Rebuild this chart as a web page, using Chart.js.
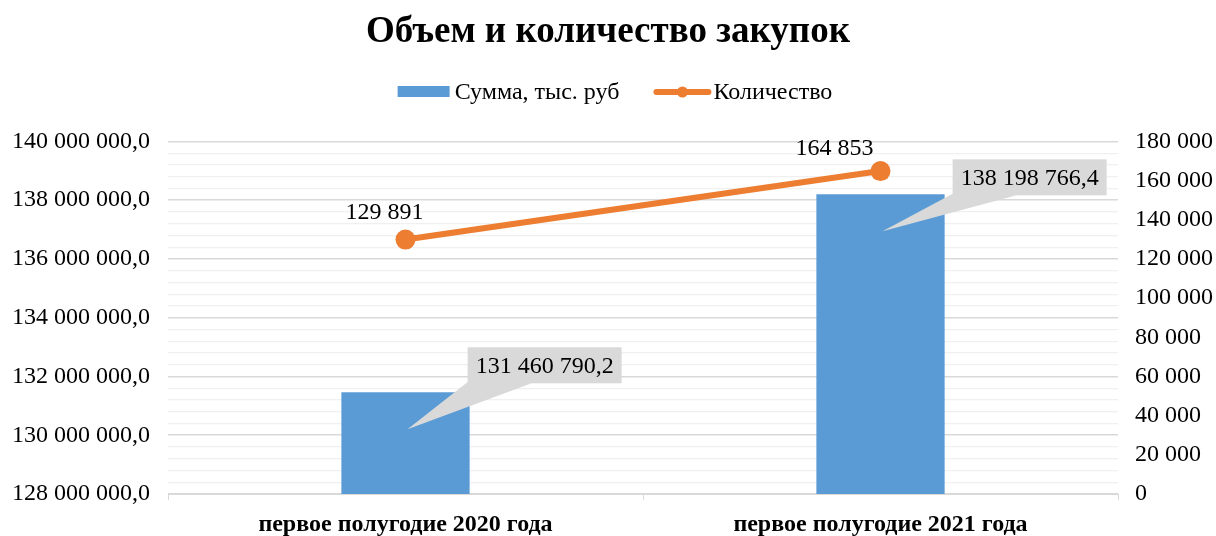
<!DOCTYPE html>
<html>
<head>
<meta charset="utf-8">
<script src="https://cdn.jsdelivr.net/npm/chart.js@4.4.0/dist/chart.umd.min.js"></script>
<style>
	html, body { margin: 0; padding: 0; background: #fff; }
	#wrap { width: 1216px; height: 536px; }
</style>
</head>
<body>
<div id="wrap"><canvas id="myChart" width="1216" height="536"></canvas></div>
<script>
// данные
var categories = ['первое полугодие 2020 года', 'первое полугодие 2021 года'];
var sumValues = [131460790.2, 138198766.4];
var countValues = [129891, 164853];
var leftTicks = [128000000, 130000000, 132000000, 134000000, 136000000, 138000000, 140000000];
var rightTicks = [0, 20000, 40000, 60000, 80000, 100000, 120000, 140000, 160000, 180000];

var FONT = "'Liberation Serif', 'Times New Roman', serif";
var BLUE = '#5b9bd5';
var ORANGE = '#ed7d31';

function fmt(v, dec) {
	var s = v.toFixed(dec).split('.');
	var int = s[0].replace(/\B(?=(\d{3})+(?!\d))/g, ' ');
	return dec ? int + ',' + s[1] : int;
}

// подписи-выноски у столбцов (смещения коробки от края столбца)
var calloutOffsets = [{dx: -2, dy: -9}, {dx: 8, dy: 1}];
// подписи над точками линии
var pointLabelOffsets = [{dx: -21, dy: -27}, {dx: -46, dy: -22}];

var labelsPlugin = {
	id: 'labelsPlugin',
	afterDatasetsDraw: function (chart) {
		var ctx = chart.ctx;
		ctx.save();
		ctx.font = '24px ' + FONT;
		// выноски
		chart.getDatasetMeta(0).data.forEach(function (bar, i) {
			var txt = fmt(sumValues[i], 1);
			var w = ctx.measureText(txt).width + 16;
			var h = 36;
			var left = bar.x + bar.width / 2 + calloutOffsets[i].dx;
			var bottom = bar.y + calloutOffsets[i].dy;
			var tipX = bar.x + 2, tipY = bar.y + 37;
			ctx.fillStyle = '#d9d9d9';
			ctx.beginPath();
			ctx.moveTo(tipX, tipY);
			ctx.lineTo(left + 1, bottom - 2);
			ctx.lineTo(left + 64, bottom);
			ctx.closePath();
			ctx.fill();
			ctx.fillRect(left, bottom - h, w, h);
			ctx.fillStyle = '#000';
			ctx.textAlign = 'center';
			ctx.textBaseline = 'middle';
			ctx.fillText(txt, left + w / 2, bottom - h / 2 + 1);
		});
		// подписи линии
		chart.getDatasetMeta(1).data.forEach(function (pt, i) {
			ctx.fillStyle = '#000';
			ctx.textAlign = 'center';
			ctx.textBaseline = 'middle';
			ctx.fillText(fmt(countValues[i], 0), pt.x + pointLabelOffsets[i].dx, pt.y + pointLabelOffsets[i].dy);
		});
		ctx.restore();
	}
};

var legendPlugin = {
	id: 'legendPlugin',
	afterDraw: function (chart) {
		var ctx = chart.ctx;
		ctx.save();
		ctx.font = '24px ' + FONT;
		var t1 = 'Сумма, тыс. руб', t2 = 'Количество';
		var w1 = ctx.measureText(t1).width, w2 = ctx.measureText(t2).width;
		var total = 52 + 5 + w1 + 34 + 58 + 2 + w2;
		var x = 615 - total / 2, y = 92;
		ctx.fillStyle = BLUE;
		ctx.fillRect(x, y - 6, 52, 11);
		ctx.fillStyle = '#000';
		ctx.textBaseline = 'middle';
		ctx.textAlign = 'left';
		ctx.fillText(t1, x + 57, y + 1);
		x += 57 + w1 + 34;
		ctx.strokeStyle = ORANGE;
		ctx.lineWidth = 6;
		ctx.lineCap = 'round';
		ctx.beginPath();
		ctx.moveTo(x + 3, y);
		ctx.lineTo(x + 55, y);
		ctx.stroke();
		ctx.fillStyle = ORANGE;
		ctx.beginPath();
		ctx.arc(x + 29, y, 5.5, 0, Math.PI * 2);
		ctx.fill();
		ctx.fillStyle = '#000';
		ctx.fillText(t2, x + 60, y + 1);
		ctx.restore();
	}
};

var ctx = document.getElementById('myChart').getContext('2d');
var chart = new Chart(ctx, {
	type: 'bar',
	data: {
		labels: categories,
		datasets: [
			{
				label: 'Сумма, тыс. руб',
				data: sumValues,
				backgroundColor: BLUE,
				yAxisID: 'y',
				order: 1,
				categoryPercentage: 1,
				barPercentage: 0.27
			},
			{
				type: 'line',
				label: 'Количество',
				data: countValues,
				borderColor: ORANGE,
				backgroundColor: ORANGE,
				borderWidth: 6,
				pointRadius: 10,
				pointHoverRadius: 10,
				pointBorderWidth: 0,
				yAxisID: 'y1',
				order: 0
			}
		]
	},
	options: {
		responsive: false,
		animation: false,
		layout: {padding: {left: 0, right: 0, top: 0, bottom: 0}},
		plugins: {
			legend: {display: false},
			tooltip: {enabled: false},
			title: {
				display: true,
				text: 'Объем и количество закупок',
				color: '#000',
				font: {family: FONT, size: 37, weight: 'bold', lineHeight: 1.2},
				padding: {top: 10, bottom: 87}
			}
		},
		scales: {
			x: {
				grid: {offset: true, drawOnChartArea: false, drawTicks: true, tickLength: 6, color: '#d9d9d9'},
				border: {color: '#d9d9d9'},
				ticks: {color: '#000', font: {family: FONT, size: 24, weight: 'bold'}, padding: 10},
				afterFit: function (s) { s.height = 42; }
			},
			y: {
				position: 'left',
				min: 128000000,
				max: 140000000,
				afterBuildTicks: function (s) {
					var arr = [];
					for (var v = 128000000; v <= 140000000; v += 400000) arr.push({value: v});
					s.ticks = arr;
				},
				ticks: {
					autoSkip: false,
					color: '#000',
					font: {family: FONT, size: 24},
					padding: 18,
					callback: function (v) {
						return leftTicks.indexOf(v) >= 0 ? fmt(v, 1) : '';
					}
				},
				grid: {
					drawTicks: false,
					color: function (c) {
						return leftTicks.indexOf(c.tick.value) >= 0 ? '#d9d9d9' : '#f0f0f0';
					},
					lineWidth: function (c) {
						return leftTicks.indexOf(c.tick.value) >= 0 ? 1.5 : 1.2;
					}
				},
				border: {display: false},
				afterFit: function (s) { s.width = 168; }
			},
			y1: {
				position: 'right',
				min: 0,
				max: 180000,
				afterBuildTicks: function (s) {
					s.ticks = rightTicks.map(function (v) { return {value: v}; });
				},
				ticks: {
					autoSkip: false,
					color: '#000',
					font: {family: FONT, size: 24},
					padding: 17,
					callback: function (v) { return fmt(v, 0); }
				},
				grid: {display: false, drawTicks: false},
				border: {display: false},
				afterFit: function (s) { s.width = 98; }
			}
		}
	},
	plugins: [labelsPlugin, legendPlugin]
});
</script>
</body>
</html>
